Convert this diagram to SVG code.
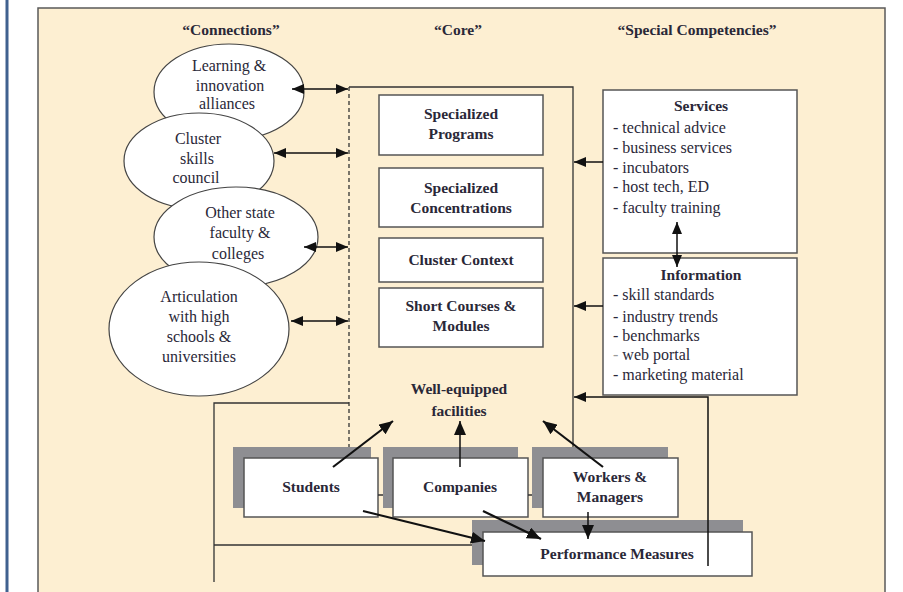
<svg xmlns="http://www.w3.org/2000/svg" width="903" height="592" viewBox="0 0 903 592">
<defs>
<style>
.t{font-family:"Liberation Serif","Times New Roman",serif;fill:#2a2838;text-anchor:middle}
.b{font-weight:bold;font-size:15.5px}
.r{font-size:16px}
.l{font-family:"Liberation Serif","Times New Roman",serif;fill:#2a2838;font-size:16px}
.box{fill:#fff;stroke:#555;stroke-width:1.5}
.sh{fill:#8e8e92}
.el{fill:#fff;stroke:#444;stroke-width:1.2}
.ln{fill:none;stroke:#333;stroke-width:1.3}
.ar{fill:none;stroke:#111;stroke-width:1.5}
.ad{fill:none;stroke:#111;stroke-width:2.2}
</style>
<marker id="ah" viewBox="0 0 12 10" refX="12" refY="5" markerWidth="12" markerHeight="10" markerUnits="userSpaceOnUse" orient="auto-start-reverse"><path d="M0,0 L12,5 L0,10 Z" fill="#111"/></marker>
<marker id="ab" viewBox="0 0 14 12" refX="14" refY="6" markerWidth="14" markerHeight="12" markerUnits="userSpaceOnUse" orient="auto"><path d="M0,0 L14,6 L0,12 Z" fill="#111"/></marker>
</defs>
<rect x="0" y="0" width="903" height="592" fill="#fff"/>
<rect x="5.5" y="0" width="3" height="592" fill="#40618f"/>
<rect x="38" y="8" width="847" height="600" fill="#fdefd2" stroke="#5a5a5a" stroke-width="1.5"/>

<g id="headers">
<text class="t b" x="231" y="35">“Connections”</text>
<text class="t b" x="458" y="35">“Core”</text>
<text class="t b" x="697" y="35">“Special Competencies”</text>
</g>

<g id="learning">
<ellipse class="el" cx="229" cy="92" rx="75" ry="48"/>
<text class="t r" x="229" y="71">Learning &amp;</text>
<text class="t r" x="230" y="91">innovation</text>
<text class="t r" x="227" y="109">alliances</text>
</g>
<g id="cluster-council">
<ellipse class="el" cx="199" cy="161" rx="75" ry="48"/>
<text class="t r" x="198" y="144">Cluster</text>
<text class="t r" x="197" y="164">skills</text>
<text class="t r" x="196" y="183">council</text>
</g>
<g id="other-state">
<ellipse class="el" cx="236" cy="237" rx="82" ry="50"/>
<text class="t r" x="240" y="218">Other state</text>
<text class="t r" x="240" y="238">faculty &amp;</text>
<text class="t r" x="238" y="259">colleges</text>
</g>
<g id="articulation">
<ellipse class="el" cx="199" cy="329" rx="90" ry="67"/>
<text class="t r" x="199" y="302">Articulation</text>
<text class="t r" x="199" y="322">with high</text>
<text class="t r" x="199" y="342">schools &amp;</text>
<text class="t r" x="199" y="362">universities</text>
</g>

<g id="specialized-programs">
<rect class="box" x="379" y="95" width="164" height="60"/>
<text class="t b" x="461" y="119">Specialized</text>
<text class="t b" x="461" y="139">Programs</text>
</g>
<g id="specialized-concentrations">
<rect class="box" x="379" y="168" width="164" height="59"/>
<text class="t b" x="461" y="193">Specialized</text>
<text class="t b" x="461" y="213">Concentrations</text>
</g>
<g id="cluster-context">
<rect class="box" x="379" y="238" width="164" height="44"/>
<text class="t b" x="461" y="265">Cluster Context</text>
</g>
<g id="short-courses">
<rect class="box" x="379" y="288" width="164" height="59"/>
<text class="t b" x="461" y="311">Short Courses &amp;</text>
<text class="t b" x="461" y="331">Modules</text>
</g>
<g id="facilities">
<text class="t b" x="459" y="394">Well-equipped</text>
<text class="t b" x="459" y="416">facilities</text>
</g>

<g id="services">
<rect class="box" x="603" y="90" width="194" height="163"/>
<text class="t b" x="701" y="111">Services</text>
<text class="l" x="613" y="133">- technical advice</text>
<text class="l" x="613" y="153">- business services</text>
<text class="l" x="613" y="173">- incubators</text>
<text class="l" x="613" y="192">- host tech, ED</text>
<text class="l" x="613" y="213">- faculty training</text>
</g>
<g id="information">
<rect class="box" x="603" y="258" width="194" height="137"/>
<text class="t b" x="701" y="280">Information</text>
<text class="l" x="613" y="300">- skill standards</text>
<text class="l" x="613" y="322">- industry trends</text>
<text class="l" x="613" y="341">- benchmarks</text>
<text class="l" x="613" y="360"><tspan fill="#9a9a9a">-</tspan> web portal</text>
<text class="l" x="613" y="380">- marketing material</text>
</g>

<g id="students">
<rect class="sh" x="233" y="447" width="138" height="61"/>
<rect class="box" x="244" y="458" width="134" height="59"/>
<text class="t b" x="311" y="492">Students</text>
</g>
<g id="companies">
<rect class="sh" x="383" y="447" width="135" height="61"/>
<rect class="box" x="393" y="458" width="135" height="59"/>
<text class="t b" x="460" y="492">Companies</text>
</g>
<g id="workers">
<rect class="sh" x="532" y="447" width="136" height="61"/>
<rect class="box" x="543" y="458" width="135" height="59"/>
<text class="t b" x="610" y="482">Workers &amp;</text>
<text class="t b" x="610" y="502">Managers</text>
</g>
<g id="performance">
<rect class="sh" x="472" y="520" width="271" height="45"/>
<rect class="box" x="483" y="532" width="269" height="44"/>
<text class="t b" x="617" y="559">Performance Measures</text>
</g>

<g id="connectors">
<path class="ln" d="M349,87 H573 V447"/>
<path class="ln" d="M349,87 V447" stroke-dasharray="4,3"/>
<path class="ln" d="M349,403 H214 V582"/>
<path class="ln" d="M214,545 H472"/>
<path class="ln" d="M378,495 H383 M528,495 H532"/>
<path class="ar" d="M292,89 H348" marker-start="url(#ah)" marker-end="url(#ah)"/>
<path class="ar" d="M274,153 H348" marker-start="url(#ah)" marker-end="url(#ah)"/>
<path class="ar" d="M304,247 H348" marker-start="url(#ah)" marker-end="url(#ah)"/>
<path class="ar" d="M291,321 H348" marker-start="url(#ah)" marker-end="url(#ah)"/>
<path class="ar" d="M603,162 H574" marker-end="url(#ah)"/>
<path class="ar" d="M603,306 H574" marker-end="url(#ah)"/>
<path class="ar" d="M708,566 V397 H574" marker-end="url(#ah)"/>
<path class="ar" d="M677,222 V267" marker-start="url(#ah)" marker-end="url(#ah)"/>
<path class="ad" d="M333,467 L393,421" marker-end="url(#ab)"/>
<path class="ar" d="M460,467 V421" marker-end="url(#ab)"/>
<path class="ad" d="M603,467 L543,421" marker-end="url(#ab)"/>
<path class="ad" d="M363,511 L485,541" marker-end="url(#ab)"/>
<path class="ad" d="M483,511 L541,539" marker-end="url(#ab)"/>
<path class="ar" d="M588,512 V539" marker-end="url(#ab)"/>
</g>
</svg>
